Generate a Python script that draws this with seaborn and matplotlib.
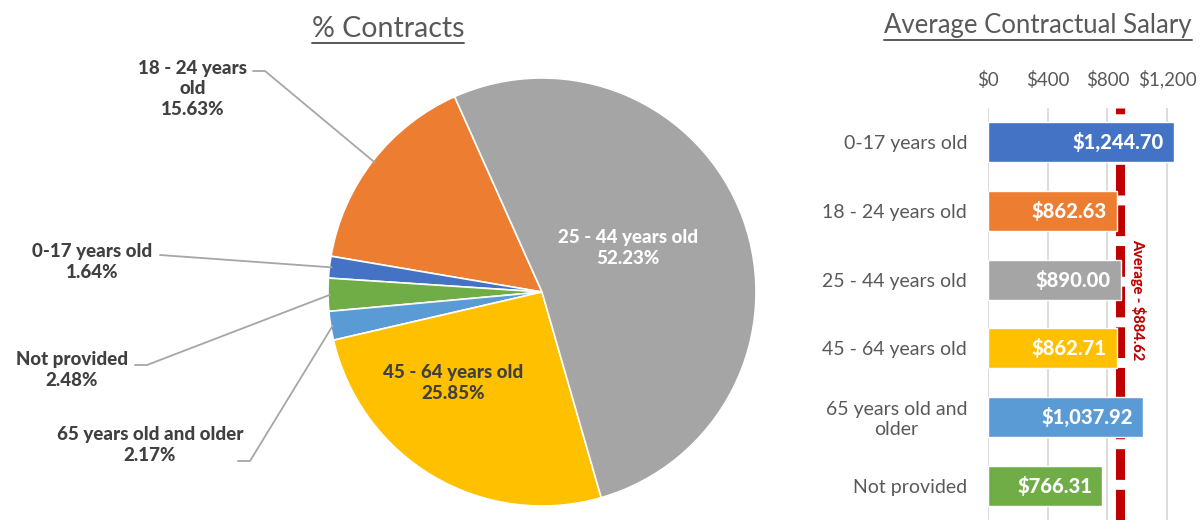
import numpy as np
import seaborn as sns
import matplotlib.pyplot as plt
from matplotlib.lines import Line2D
from matplotlib.transforms import Affine2D

# ---- data ----
pie_groups = ["18 - 24 years old", "0-17 years old", "Not provided",
              "65 years old and older", "45 - 64 years old", "25 - 44 years old"]
pie_share = [15.63, 1.64, 2.48, 2.17, 25.85, 52.23]
pie_colors = ["#ED7D31", "#4472C4", "#70AD47", "#5B9BD5", "#FFC000", "#A5A5A5"]

bar_groups = ["0-17 years old", "18 - 24 years old", "25 - 44 years old",
              "45 - 64 years old", "65 years old and\nolder", "Not provided"]
salary = [1244.70, 862.63, 890.00, 862.71, 1037.92, 766.31]
bar_colors = ["#4472C4", "#ED7D31", "#A5A5A5", "#FFC000", "#5B9BD5", "#70AD47"]
avg_salary = 884.62
x_ticks = [0, 400, 800, 1200]

sns.set_theme(style="white")
plt.rcParams['font.family'] = ['Lato', 'DejaVu Sans']

W, H = 1202, 520
fig = plt.figure(figsize=(W / 100, H / 100), dpi=100)
# pixel coords, origin top-left
T = Affine2D().scale(1 / W, -1 / H).translate(0, 1) + fig.transFigure

grey_txt = "#595959"
dark_txt = "#404040"
line_col = "#A6A6A6"
HEAVY = "black"

# ---- pie ----
cx, cy, R = 542, 292, 214
axp = fig.add_axes([(cx - R) / W, (H - cy - R) / H, 2 * R / W, 2 * R / H])
start = 114.1
wedges, _ = axp.pie(pie_share, colors=pie_colors, startangle=start,
                    counterclock=True,
                    wedgeprops=dict(edgecolor="white", linewidth=1.2))
axp.set_xlim(-1, 1)
axp.set_ylim(-1, 1)
axp.set_aspect("equal")
axp.axis("off")


def edge_px(i, r=1.0):
    w = wedges[i]
    ang = np.deg2rad((w.theta1 + w.theta2) / 2)
    x, y = axp.transData.transform((r * np.cos(ang), r * np.sin(ang)))
    return x, H - y


# outside labels: text centre, leader line start points (px)
outside = {
    0: ("18 - 24 years\nold\n15.63%", (193, 89), [(253, 71), (265, 71)]),
    1: ("0-17 years old\n1.64%", (92, 262), [(160, 255)]),
    2: ("Not provided\n2.48%", (72, 370), [(135, 365), (147, 365)]),
    3: ("65 years old and older\n2.17%", (150, 445), [(238, 461), (250, 461)]),
}
for i, (txt, (tx, ty), pts) in outside.items():
    fig.text(tx, ty, txt, transform=T, ha="center", va="center",
             fontsize=13.5, fontweight=HEAVY, color=dark_txt,
             multialignment="center", linespacing=1.25)
    ex, ey = edge_px(i, 0.99)
    xs = [p[0] for p in pts] + [ex]
    ys = [p[1] for p in pts] + [ey]
    fig.add_artist(Line2D(xs, ys, transform=T, color=line_col, lw=1.3))

fig.text(628, 248, "25 - 44 years old\n52.23%", transform=T, ha="center",
         va="center", fontsize=13.5, fontweight=HEAVY, color="white",
         linespacing=1.25)
fig.text(453, 383, "45 - 64 years old\n25.85%", transform=T, ha="center",
         va="center", fontsize=13.5, fontweight=HEAVY, color=dark_txt,
         linespacing=1.25)

t1 = fig.text(388, 29, "% Contracts", transform=T, ha="center", va="center",
              fontsize=20.5, color=grey_txt)

# ---- bars ----
x0, ytop, ybot = 988, 108, 520
px_per = (1167 - x0) / 1200
xmax = 1260
axb = fig.add_axes([x0 / W, (H - ybot) / H, xmax * px_per / W, (ybot - ytop) / H])
sns.barplot(x=salary, y=bar_groups, hue=bar_groups, palette=bar_colors,
            width=0.58, orient="h", legend=False, ax=axb, zorder=3,
            saturation=1)
axb.set_xlim(0, xmax)
axb.set_ylim(len(bar_groups) - 0.5, -0.5)
for s in axb.spines.values():
    s.set_visible(False)
axb.xaxis.tick_top()
axb.set_xticks(x_ticks)
axb.set_xticklabels([f"${v:,.0f}" for v in x_ticks])
axb.tick_params(axis="x", length=0, pad=14, labelsize=13.5, labelcolor=grey_txt)
axb.tick_params(axis="y", length=0, pad=15, labelsize=14, labelcolor=grey_txt)
for lab in axb.get_yticklabels():
    lab.set_multialignment("center")
axb.set_xlabel("")
axb.set_ylabel("")
for v in x_ticks:
    axb.axvline(v, color="#D9D9D9", lw=1.3, zorder=1)
axb.axvline(avg_salary, color="#C00000", lw=6.5, dashes=(3.4, 1.1), zorder=2)

for i, v in enumerate(salary):
    axb.annotate(f"${v:,.2f}", (v, i), xytext=(-7, 0), textcoords="offset points",
                 ha="right", va="center", color="white", fontsize=14.5,
                 fontweight=HEAVY, zorder=4)

fig.text(1138, 300, f"Average - ${avg_salary:,.2f}", transform=T, rotation=270,
         ha="center", va="center", fontsize=10.5, fontweight=HEAVY,
         color="#C00000")

t2 = fig.text(1038, 26, "Average Contractual Salary", transform=T, ha="center",
              va="center", fontsize=18.5, color=grey_txt)

# underline the titles
fig.canvas.draw()
r = fig.canvas.get_renderer()
for t in (t1, t2):
    bb = t.get_window_extent(r)
    y = bb.y0 - 1
    fig.add_artist(Line2D([bb.x0, bb.x1], [y, y], transform=None,
                          color=grey_txt, lw=1.4))

fig.savefig("out.png", dpi=100)
